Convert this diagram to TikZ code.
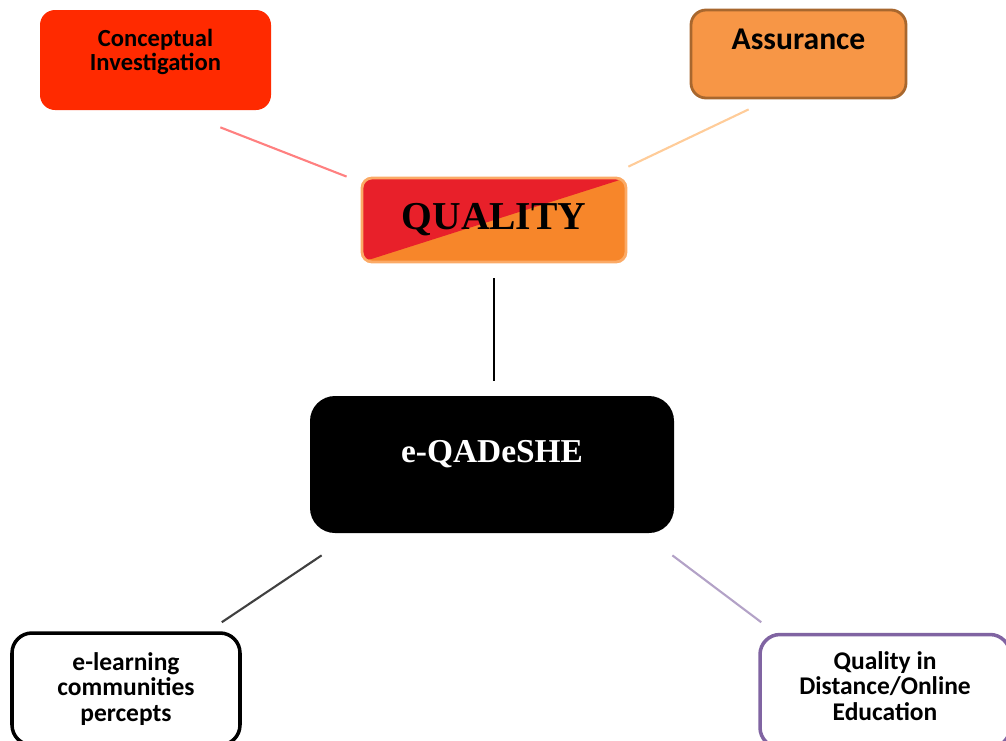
\documentclass[tikz,border=0pt]{standalone}
\usepackage{fontspec}
\setmainfont{Liberation Serif}
\newfontfamily\calibri{Carlito}
\usepackage{xcolor}
\usepackage{tikz}
\usetikzlibrary{shapes,positioning}

\definecolor{conceptred}{HTML}{FF2A00}
\definecolor{assurefill}{HTML}{F79646}
\definecolor{assuredraw}{HTML}{A8672E}
\definecolor{qualred}{HTML}{E8202A}
\definecolor{qualorange}{HTML}{F7862A}
\definecolor{qualdraw}{HTML}{FBAA66}
\definecolor{distpurple}{HTML}{8064A2}

\begin{document}
\begin{tikzpicture}[
    x=1cm, y=1cm,
    topic/.style={
        rectangle,
        rounded corners=0.3cm,
        align=center,
        font=\calibri\bfseries
    },
    link/.style={
        line width=1.2pt
    }
]
\useasboundingbox (0,0) rectangle (20.12,-14.8);

% Quality concept boxes
\node[topic, fill=conceptred, minimum width=4.62cm, minimum height=2cm, text depth=0.42cm,
      font=\calibri\bfseries\fontsize{14}{13.8}\selectfont] (concept) at (3.11,-1.2) {
    Conceptual\\
    Investigation
};

\node[topic, fill=assurefill, draw=assuredraw, line width=1.6pt,
      minimum width=4.3cm, minimum height=1.76cm, text depth=0.58cm,
      font=\calibri\bfseries\fontsize{18}{20}\selectfont] (assure) at (15.97,-1.08) {Assurance};

\node[topic, draw=qualdraw, line width=1.6pt, rounded corners=0.2cm,
      minimum width=5.28cm, minimum height=1.68cm,
      font=\rmfamily\bfseries\fontsize{22.5}{24}\selectfont,
      path picture={
          \fill[qualorange] (path picture bounding box.south west) rectangle (path picture bounding box.north east);
          \fill[qualred] (path picture bounding box.south west) -- (path picture bounding box.north west) -- (path picture bounding box.north east) -- cycle;
      }] (quality) at (9.88,-4.4) {QUALITY};

% Central framework
\node[topic, fill=black, text=white, rounded corners=0.5cm,
      minimum width=7.28cm, minimum height=2.74cm, text depth=0.52cm,
      font=\rmfamily\bfseries\fontsize{19}{21}\selectfont] (qadeshe) at (9.84,-9.29) {e-QADeSHE};

% Bottom boxes
\node[topic, fill=white, draw=black, line width=2pt, rounded corners=0.4cm,
      minimum width=4.56cm, minimum height=2.24cm,
      font=\calibri\bfseries\fontsize{14.5}{14.6}\selectfont] (elearn) at (2.52,-13.78) {
    e-learning\\
    communities\\
    percepts
};

\node[topic, fill=white, draw=distpurple, line width=2pt, rounded corners=0.4cm,
      minimum width=5cm, minimum height=2.26cm, text depth=0.2cm,
      font=\calibri\bfseries\fontsize{14.5}{14.6}\selectfont] (dist) at (17.7,-13.82) {
    Quality in\\
    Distance/Online\\
    Education
};

% Connectors
\draw[link, color=red!50!white] ([xshift=-1.02cm, yshift=-0.34cm]concept.south east) -- ([xshift=-0.28cm]quality.north west);
\draw[link, color=orange!40!white] ([xshift=1.18cm, yshift=-0.2cm]assure.south west) -- ([xshift=0.02cm, yshift=0.2cm]quality.north east);
\draw[link, color=black] ([yshift=-0.3cm]quality.south) -- ([yshift=0.3cm]quality.south |- qadeshe.north);
\draw[link, color=black!75] ([xshift=0.24cm, yshift=-0.44cm]qadeshe.south west) -- ([xshift=-0.4cm, yshift=0.18cm]elearn.north east);
\draw[link, color=distpurple!60!white] ([xshift=-0.04cm, yshift=-0.44cm]qadeshe.south east) -- ([xshift=0.06cm, yshift=0.21cm]dist.north west);

\end{tikzpicture}
\end{document}
